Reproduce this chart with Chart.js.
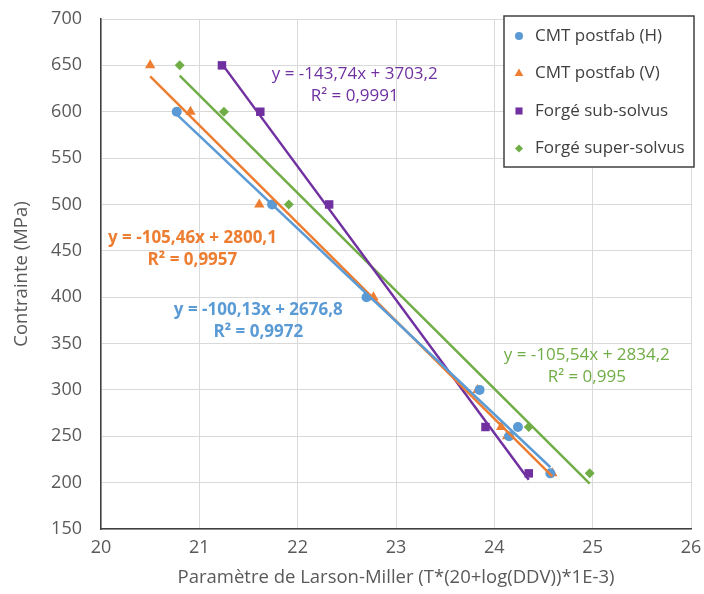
<!DOCTYPE html>
<html>
<head>
<meta charset="utf-8">
<script src="https://cdn.jsdelivr.net/npm/chart.js@4/dist/chart.umd.min.js"></script>
<style>
  body { margin: 0; background: #fff; }
  #chart { display: block; }
</style>
</head>
<body>
<canvas id="chart" width="704" height="594"></canvas>
<script>
const seriesNames = ["CMT postfab (H)", "CMT postfab (V)", "Forgé sub-solvus", "Forgé super-solvus"];
const colors = ["#5b9bd5", "#ed7d31", "#7030a0", "#70ad47"];
const markers = ["circle", "triangle", "rect", "rectRot"];
const markerRadius = [5, 6, 6, 5];

// points
const cmtHx = [20.77, 21.74, 22.7, 23.85, 24.24, 24.15, 24.57];
const cmtHy = [600, 500, 400, 300, 260, 250, 210];
const cmtVx = [20.5, 20.91, 21.61, 22.77, 23.83, 24.07, 24.13, 24.59];
const cmtVy = [650, 600, 500, 400, 300, 260, 250, 210];
const subX = [21.23, 21.62, 22.32, 23.91, 24.35];
const subY = [650, 600, 500, 260, 210];
const superX = [20.8, 21.25, 21.91, 24.35, 24.97];
const superY = [650, 600, 500, 260, 210];

// trendline equations as printed on the chart
const slopes = [-100.13, -105.46, -143.74, -105.54];
const intercepts = [2676.8, 2800.1, 3703.2, 2834.2];
const r2Text = ["0,9972", "0,9957", "0,9991", "0,995"];

// where each equation label sits (data units) and its weight
const labelX = [21.6, 20.93, 22.58, 24.94];
const labelY = [386, 464, 640, 337];
const labelBold = [true, true, false, false];

const xMin = 20, xMax = 26, xStep = 1;
const yMin = 150, yMax = 700, yStep = 50;

const xs = [cmtHx, cmtVx, subX, superX];
const ys = [cmtHy, cmtVy, subY, superY];

const FONT = "'Open Sans', 'Noto Sans', sans-serif";
const TEXT = "#595959";

function toPoints(a, b) {
  return a.map((x, i) => ({ x: x, y: b[i] }));
}

function trendPoints(i) {
  const lo = Math.min(...xs[i]);
  const hi = Math.max(...xs[i]);
  return [
    { x: lo, y: slopes[i] * lo + intercepts[i] },
    { x: hi, y: slopes[i] * hi + intercepts[i] },
  ];
}

function fmt(v, d) {
  return v.toFixed(d).replace(".", ",");
}

const datasets = [];
for (let i = 0; i < 4; i++) {
  datasets.push({
    type: "line",
    label: seriesNames[i] + " trend",
    data: trendPoints(i),
    borderColor: colors[i],
    borderWidth: 2.5,
    pointRadius: 0,
    fill: false,
    order: 1,
  });
}
for (let i = 0; i < 4; i++) {
  datasets.push({
    label: seriesNames[i],
    data: toPoints(xs[i], ys[i]),
    backgroundColor: colors[i],
    borderColor: colors[i],
    borderWidth: 0,
    pointStyle: markers[i],
    pointRadius: markerRadius[i],
    order: 2,
  });
}

function drawMarker(ctx, style, x, y, r, color) {
  ctx.save();
  ctx.fillStyle = color;
  ctx.beginPath();
  if (style === "circle") {
    ctx.arc(x, y, r, 0, Math.PI * 2);
  } else if (style === "triangle") {
    ctx.moveTo(x, y - r);
    ctx.lineTo(x + r * 0.866, y + r * 0.5);
    ctx.lineTo(x - r * 0.866, y + r * 0.5);
    ctx.closePath();
  } else if (style === "rect") {
    ctx.rect(x - r * 0.707, y - r * 0.707, r * 1.414, r * 1.414);
  } else {
    ctx.moveTo(x, y - r);
    ctx.lineTo(x + r, y);
    ctx.lineTo(x, y + r);
    ctx.lineTo(x - r, y);
    ctx.closePath();
  }
  ctx.fill();
  ctx.restore();
}

const equationLabels = {
  id: "equationLabels",
  afterDatasetsDraw(chart) {
    const ctx = chart.ctx;
    const sx = chart.scales.x, sy = chart.scales.y;
    ctx.save();
    ctx.textAlign = "center";
    ctx.textBaseline = "middle";
    for (let i = 0; i < 4; i++) {
      const px = sx.getPixelForValue(labelX[i]);
      const py = sy.getPixelForValue(labelY[i]);
      ctx.font = (labelBold[i] ? "bold 17px " : "17px ") + FONT;
      ctx.fillStyle = colors[i];
      ctx.fillText("y = " + fmt(slopes[i], 2) + "x + " + fmt(intercepts[i], 1), px, py);
      ctx.fillText("R² = " + r2Text[i], px, py + 22);
    }
    ctx.restore();
  },
};

const boxLegend = {
  id: "boxLegend",
  afterDraw(chart) {
    const ctx = chart.ctx;
    const area = chart.chartArea;
    const right = area.right + 3;
    const left = right - 190;
    const top = area.top - 3;
    const h = 151;
    ctx.save();
    ctx.fillStyle = "#fff";
    ctx.fillRect(left, top, right - left, h);
    ctx.strokeStyle = "#404040";
    ctx.lineWidth = 1.5;
    ctx.strokeRect(left, top, right - left, h);
    ctx.font = "17px " + FONT;
    ctx.textBaseline = "middle";
    for (let i = 0; i < 4; i++) {
      const y = top + 20 + i * 37.5;
      drawMarker(ctx, markers[i], left + 15, y, markerRadius[i] - 1, colors[i]);
      ctx.fillStyle = "#404040";
      ctx.fillText(seriesNames[i], left + 31, y);
    }
    ctx.restore();
  },
};

new Chart(document.getElementById("chart"), {
  type: "scatter",
  data: { datasets: datasets },
  options: {
    responsive: false,
    animation: false,
    layout: { padding: { top: 19, right: 13, left: 0, bottom: 0 } },
    plugins: {
      legend: { display: false },
      tooltip: { enabled: false },
    },
    scales: {
      x: {
        type: "linear",
        min: xMin,
        max: xMax,
        afterFit: (scale) => {
          scale.height = 65;
          scale.paddingLeft = 0;
          scale.paddingRight = 0;
        },
        ticks: {
          stepSize: xStep,
          color: TEXT,
          font: { family: FONT, size: 18 },
          padding: 8,
        },
        grid: { color: "#d9d9d9", drawTicks: false },
        border: { color: "#404040", width: 1.5 },
        title: {
          display: true,
          text: "Paramètre de Larson-Miller (T*(20+log(DDV))*1E-3)",
          color: TEXT,
          font: { family: FONT, size: 18.5 },
          padding: { top: 0, bottom: 5 },
        },
      },
      y: {
        type: "linear",
        min: yMin,
        max: yMax,
        afterFit: (scale) => {
          scale.width = 101;
          scale.paddingTop = 0;
          scale.paddingBottom = 0;
        },
        ticks: {
          stepSize: yStep,
          color: TEXT,
          font: { family: FONT, size: 18 },
          padding: 19,
        },
        grid: { color: "#d9d9d9", drawTicks: false },
        border: { color: "#404040", width: 1.5 },
        title: {
          display: true,
          text: "Contrainte (MPa)",
          color: TEXT,
          font: { family: FONT, size: 18.5 },
          padding: { top: 11, bottom: 0 },
        },
      },
    },
  },
  plugins: [equationLabels, boxLegend],
});
</script>
</body>
</html>
